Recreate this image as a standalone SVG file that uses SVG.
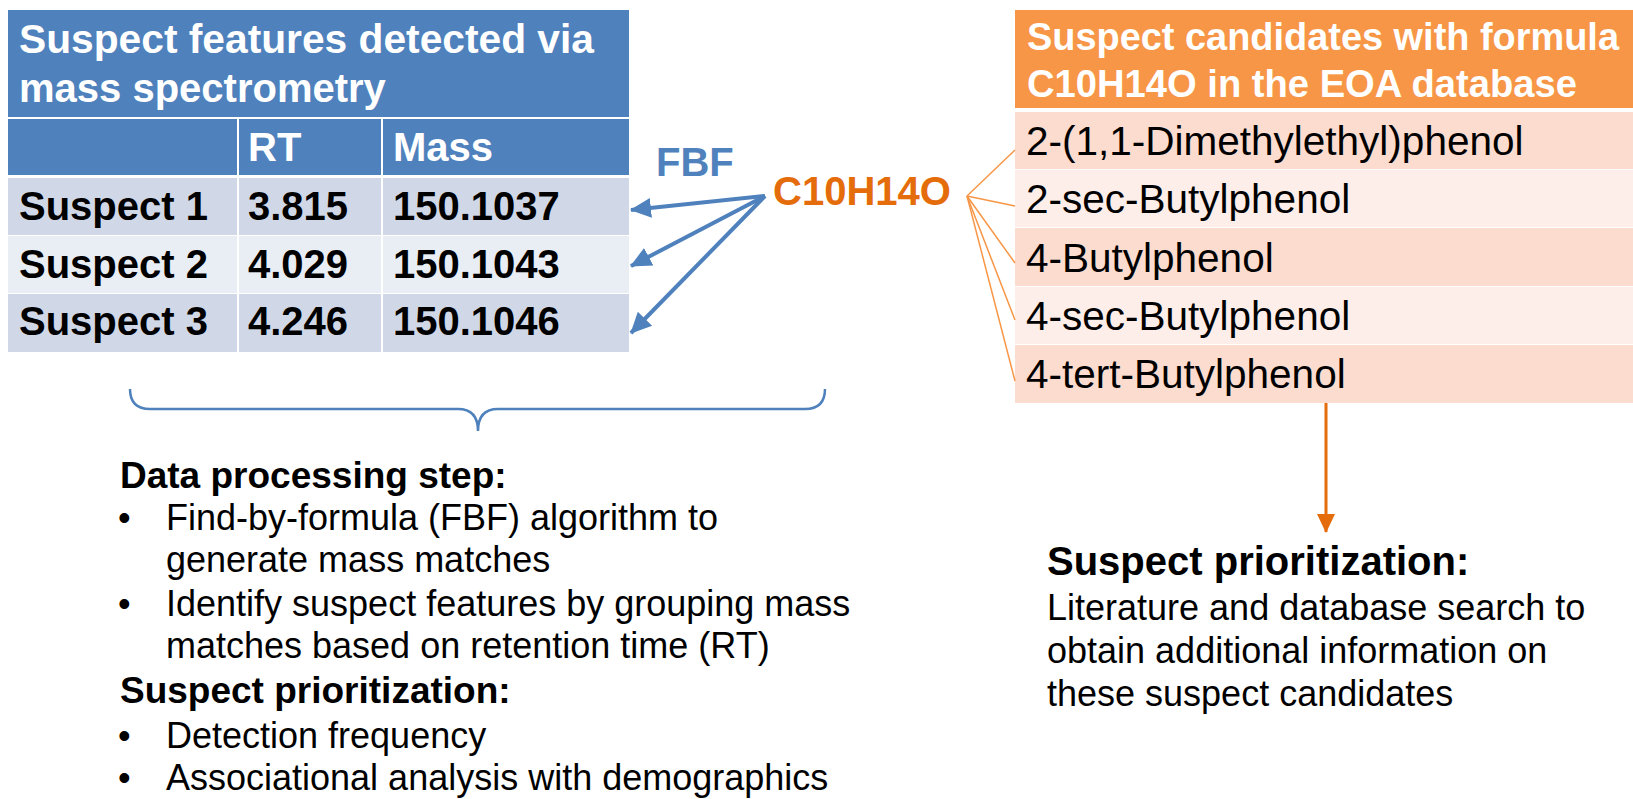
<svg xmlns="http://www.w3.org/2000/svg" width="1633" height="799" viewBox="0 0 1633 799">
  <defs>
    <style>
      text { font-family: "Liberation Sans", Arial, sans-serif; }
      .hd { font-size: 40px; font-weight: bold; fill: #ffffff; }
      .hd2 { font-size: 38.5px; font-weight: bold; fill: #ffffff; }
      .cellb { font-size: 40px; font-weight: bold; fill: #000000; }
      .cell { font-size: 40.5px; fill: #000000; }
      .h2 { font-weight: bold; fill: #000000; }
      .body { font-size: 36px; fill: #000000; }
      .blue-hd { fill: #4F81BD; }
      .blue-r1 { fill: #D0D8E8; }
      .blue-r2 { fill: #E9EDF4; }
      .org-hd { fill: #F79646; }
      .org-r1 { fill: #FBDCCF; }
      .org-r2 { fill: #FDEEE9; }
      .sep { stroke: #ffffff; stroke-width: 2; }
      .fbf { stroke: #4F81BD; stroke-width: 4; fill: none; }
      .fan { stroke: #F79646; stroke-width: 1.5; fill: none; }
      .down { stroke: #E46C0A; stroke-width: 3; fill: none; }
      .brace { stroke: #4F81BD; stroke-width: 2.5; fill: none; }
    </style>
    <marker id="arrowBlue" markerUnits="userSpaceOnUse" markerWidth="22" markerHeight="22" viewBox="0 0 22 22" refX="20" refY="11" orient="auto">
      <path d="M0,1 L21,11 L0,21 Z" fill="#4F81BD"/>
    </marker>
    <marker id="arrowOrange" markerUnits="userSpaceOnUse" markerWidth="20" markerHeight="20" viewBox="0 0 20 20" refX="18" refY="10" orient="auto">
      <path d="M0,1 L19,10 L0,19 Z" fill="#E46C0A"/>
    </marker>
  </defs>

  <rect width="1633" height="799" fill="#ffffff"/>

  <!-- Feature table (mass spectrometry) -->
  <g id="feature-table">
    <rect class="blue-hd" x="8" y="10" width="621" height="107"/>
    <rect class="blue-hd" x="8" y="119" width="621" height="56"/>
    <rect class="blue-r1" x="8" y="178" width="621" height="57"/>
    <rect class="blue-r2" x="8" y="236" width="621" height="57"/>
    <rect class="blue-r1" x="8" y="294" width="621" height="58"/>
    <line class="sep" x1="238" y1="119" x2="238" y2="352"/>
    <line class="sep" x1="382" y1="119" x2="382" y2="352"/>
    <text class="hd" x="19" y="53" textLength="575" lengthAdjust="spacingAndGlyphs">Suspect features detected via</text>
    <text class="hd" x="19" y="102">mass spectrometry</text>
    <text class="hd" x="248" y="161">RT</text>
    <text class="hd" x="393" y="161">Mass</text>
    <text class="cellb" x="19" y="220">Suspect 1</text>
    <text class="cellb" x="248" y="220">3.815</text>
    <text class="cellb" x="393" y="220">150.1037</text>
    <text class="cellb" x="19" y="278">Suspect 2</text>
    <text class="cellb" x="248" y="278">4.029</text>
    <text class="cellb" x="393" y="278">150.1043</text>
    <text class="cellb" x="19" y="335">Suspect 3</text>
    <text class="cellb" x="248" y="335">4.246</text>
    <text class="cellb" x="393" y="335">150.1046</text>
  </g>

  <!-- Formula node -->
  <g id="formula">
    <text x="656" y="176" style="font-size:40px;font-weight:bold;fill:#4F81BD">FBF</text>
    <text x="773" y="205" style="font-size:40px;font-weight:bold;fill:#E46C0A">C10H14O</text>
  </g>

  <!-- Candidate table (EOA database) -->
  <g id="candidate-table">
    <rect class="org-hd" x="1015" y="10" width="618" height="98"/>
    <rect class="org-r1" x="1015" y="112" width="618" height="57"/>
    <rect class="org-r2" x="1015" y="170" width="618" height="57"/>
    <rect class="org-r1" x="1015" y="228" width="618" height="58"/>
    <rect class="org-r2" x="1015" y="287" width="618" height="57"/>
    <rect class="org-r1" x="1015" y="345" width="618" height="58"/>
    <text class="hd2" x="1027" y="50" textLength="592" lengthAdjust="spacingAndGlyphs">Suspect candidates with formula</text>
    <text class="hd2" x="1027" y="97" textLength="550" lengthAdjust="spacingAndGlyphs">C10H14O in the EOA database</text>
    <text class="cell" x="1026" y="155">2-(1,1-Dimethylethyl)phenol</text>
    <text class="cell" x="1026" y="213">2-sec-Butylphenol</text>
    <text class="cell" x="1026" y="272">4-Butylphenol</text>
    <text class="cell" x="1026" y="330">4-sec-Butylphenol</text>
    <text class="cell" x="1026" y="388">4-tert-Butylphenol</text>
  </g>

  <!-- Connectors -->
  <g id="connectors">
    <line class="fbf" x1="765" y1="196" x2="631" y2="210" marker-end="url(#arrowBlue)"/>
    <line class="fbf" x1="765" y1="196" x2="631" y2="266" marker-end="url(#arrowBlue)"/>
    <line class="fbf" x1="765" y1="196" x2="631" y2="333" marker-end="url(#arrowBlue)"/>
    <line class="fan" x1="967" y1="196" x2="1015" y2="150"/>
    <line class="fan" x1="967" y1="196" x2="1015" y2="206"/>
    <line class="fan" x1="967" y1="196" x2="1015" y2="263"/>
    <line class="fan" x1="967" y1="196" x2="1015" y2="320"/>
    <line class="fan" x1="967" y1="196" x2="1015" y2="381"/>
    <line class="down" x1="1326" y1="403" x2="1326" y2="532" marker-end="url(#arrowOrange)"/>
    <path class="brace" d="M130,389 Q130,409 150,409 L458,409 Q478,409 478,431 Q478,409 498,409 L805,409 Q825,409 825,389"/>
  </g>

  <!-- Processing notes -->
  <g id="processing-notes">
    <text class="h2" x="120" y="488" style="font-size:37px">Data processing step:</text>
    <text class="body" x="118" y="530">•</text>
    <text class="body" x="166" y="530">Find-by-formula (FBF) algorithm to</text>
    <text class="body" x="166" y="572">generate mass matches</text>
    <text class="body" x="118" y="616">•</text>
    <text class="body" x="166" y="616">Identify suspect features by grouping mass</text>
    <text class="body" x="166" y="658">matches based on retention time (RT)</text>
    <text class="h2" x="120" y="703" style="font-size:37px">Suspect prioritization:</text>
    <text class="body" x="118" y="748">•</text>
    <text class="body" x="166" y="748">Detection frequency</text>
    <text class="body" x="118" y="790">•</text>
    <text class="body" x="166" y="790">Associational analysis with demographics</text>
  </g>

  <!-- Candidate prioritization notes -->
  <g id="candidate-notes">
    <text class="h2" x="1047" y="575" style="font-size:40px">Suspect prioritization:</text>
    <text class="body" x="1047" y="620">Literature and database search to</text>
    <text class="body" x="1047" y="663">obtain additional information on</text>
    <text class="body" x="1047" y="706">these suspect candidates</text>
  </g>
</svg>
